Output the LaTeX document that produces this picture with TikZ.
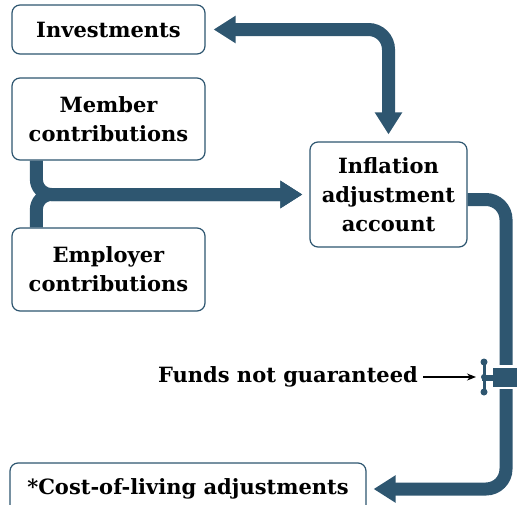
\documentclass[tikz,border=0pt]{standalone}
\usepackage{fontspec}
\setmainfont{DejaVu Serif}
\usetikzlibrary{arrows.meta}

\definecolor{pipeblue}{HTML}{2E5670}

\tikzset{
	box/.style={draw=pipeblue, line width=1.2pt, rounded corners=8pt, fill=white,
		align=center, inner sep=0pt, font=\bfseries\fontsize{21}{29}\selectfont},
	tag/.style={font=\bfseries\fontsize{21}{29}\selectfont, inner sep=2pt},
	pipe/.style={draw=pipeblue, line width=13pt, rounded corners=20pt},
	head/.style={-{Triangle[width=26pt,length=22pt]}},
	heads/.style={{Triangle[width=26pt,length=22pt]}-{Triangle[width=26pt,length=22pt]}},
	valve/.style={fill=pipeblue, minimum width=26pt, minimum height=19pt, inner sep=0pt},
}

\begin{document}
\begin{tikzpicture}[x=1pt,y=-1pt]
	\useasboundingbox (0,0) rectangle (517,504);

	% boxes
	\node[box, minimum width=193pt, minimum height=49pt] (inv) at (108.5,29.5) {Investments};
	\node[box, minimum width=193pt, minimum height=82pt] (mem) at (108.5,119) {Member\\contributions};
	\node[box, minimum width=193pt, minimum height=83pt] (emp) at (108.5,269.5) {Employer\\contributions};
	\node[box, minimum width=157pt, minimum height=105pt] (infl) at (388.5,194.5) {Inflation\\adjustment\\account};
	\node[box, minimum width=356pt, minimum height=52pt] (col) at (188,489) {*Cost-of-living adjustments};

	% valve on the outflow pipe
	\node[valve] (valve) at (506,377.5) {};
	\fill[pipeblue] (482,374.5) rectangle (494,380.5);
	\draw[pipeblue, line width=3pt] (484,362) -- (484,392);
	\fill[pipeblue] (484,362) circle (3.5pt) (484,392) circle (3.5pt) (484,377) circle (3pt);
	\coordinate (handle) at (480,377);

	\node[tag] (fng) at (288,377) {Funds not guaranteed};
	\draw[-{Stealth[length=9pt,width=7pt]}, line width=1.2pt, shorten >=4pt, shorten <=3pt] (fng.east) -- (handle);

	% pipes
	\draw[pipe, heads] ([xshift=8pt]inv.east) -| ([yshift=7pt]infl.north);
	\draw[pipe, head, rounded corners=15pt] ([xshift=25pt]mem.south west) |- ([xshift=-7pt]infl.west);
	\draw[pipe, head, rounded corners=15pt] ([xshift=25pt]emp.north west) |- ([xshift=-7pt]infl.west);
	\draw[pipe] ([yshift=-5pt]infl.east) -| ([yshift=3pt]valve.north);
	\draw[pipe, head] ([yshift=-2pt]valve.south) |- ([xshift=7pt]col.east);
\end{tikzpicture}
\end{document}
